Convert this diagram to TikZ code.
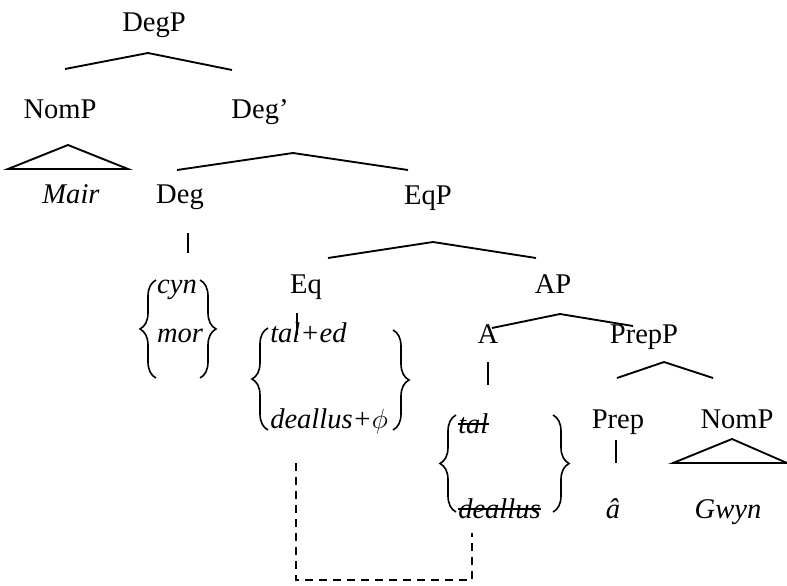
\documentclass[tikz,border=0pt]{standalone}
\usepackage{fontspec}
\setmainfont{Liberation Serif}
\usetikzlibrary{decorations.pathreplacing}
\begin{document}
\begin{tikzpicture}[x=0.75pt,y=-0.75pt,
  lbl/.style={inner sep=0pt,anchor=base,font=\fontsize{21.4}{25}\selectfont},
  word/.style={lbl,font=\fontsize{21.4}{25}\selectfont\itshape},
  branch/.style={line width=1.4pt,line join=miter},
  curly/.style={line width=1.2pt,decorate,decoration={brace,amplitude=12pt,aspect=0.5}},
  strike/.style={line width=1.3pt},
  link/.style={line width=1.4pt,dash pattern=on 6pt off 4.5pt}]
\useasboundingbox (0,0) rectangle (787,585);

% category labels
\node[lbl] (degp)  at (154,32)  {DegP};
\node[lbl] (nomp1) at (60,118)  {NomP};
\node[lbl] (degb)  at (260,118) {Deg’};
\node[lbl] (deg)   at (180,203) {Deg};
\node[lbl] (eqp)   at (428,204) {EqP};
\node[lbl] (eq)    at (306,293) {Eq};
\node[lbl] (ap)    at (553,293) {AP};
\node[lbl] (a)     at (488,343) {A};
\node[lbl] (prepp) at (644,343) {PrepP};
\node[lbl] (prep)  at (618,428) {Prep};
\node[lbl] (nomp2) at (737,428) {NomP};

% lexical items
\node[word] (mair)  at (71,203)  {Mair};
\node[word] (cyn)   at (177,293) {cyn};
\node[word] (mor)   at (180,342) {mor};
\node[word,anchor=base west] (taled) at (270,342) {tal+ed};
\node[word,anchor=base west] (deallusphi) at (270,428) {deallus+$\phi$};
\node[word,anchor=base west] (tal) at (458,433) {tal};
\node[word,anchor=base west] (deallus) at (458,518) {deallus};
\node[word] (ahat)  at (613,518) {â};
\node[word] (gwyn)  at (728,518) {Gwyn};

% deleted copies
\draw[strike] ([yshift=7pt]tal.base west) -- ([yshift=7pt]tal.base east);
\draw[strike] ([yshift=7pt]deallus.base west) -- ([yshift=7pt]deallus.base east);

% branch points
\coordinate (degpL) at (65,69);   \coordinate (degpT) at (148,53);  \coordinate (degpR) at (232,70);
\coordinate (degbL) at (177,170); \coordinate (degbT) at (293,153); \coordinate (degbR) at (408,170);
\coordinate (eqpL) at (328,258);  \coordinate (eqpT) at (433,242);  \coordinate (eqpR) at (536,258);
\coordinate (apL) at (492,328);   \coordinate (apT) at (560,314);   \coordinate (apR) at (633,326);
\coordinate (preppL) at (617,378);\coordinate (preppT) at (664,362);\coordinate (preppR) at (713,378);
\coordinate (tri1T) at (68,145);  \coordinate (tri1L) at (8,169);   \coordinate (tri1R) at (128,169);
\coordinate (tri2T) at (732,439); \coordinate (tri2L) at (673,463); \coordinate (tri2R) at (787,463);
\coordinate (degT) at (188,233);  \coordinate (degB) at (188,253);
\coordinate (eqT) at (297,313);   \coordinate (eqB) at (297,335);
\coordinate (aT) at (488,362);    \coordinate (aB) at (488,385);
\coordinate (prepT) at (616,440); \coordinate (prepB) at (616,463);

% branches
\draw[branch] (degpL) -- (degpT) -- (degpR);
\draw[branch] (degbL) -- (degbT) -- (degbR);
\draw[branch] (eqpL) -- (eqpT) -- (eqpR);
\draw[branch] (apL) -- (apT) -- (apR);
\draw[branch] (preppL) -- (preppT) -- (preppR);
\draw[branch] (tri1L) -- (tri1T) -- (tri1R) -- cycle;
\draw[branch] (tri2L) -- (tri2T) -- (tri2R) -- cycle;
\draw[branch] (degT) -- (degB);
\draw[branch] (eqT) -- (eqB);
\draw[branch] (aT) -- (aB);
\draw[branch] (prepT) -- (prepB);

% braces around alternatives
\draw[curly] (156,378) -- (156,280);
\draw[curly] (200,280) -- (200,378);
\draw[curly] (268,430) -- (268,328);
\draw[curly] (393,330) -- (393,430);
\draw[curly] (456,512) -- (456,415);
\draw[curly] (553,415) -- (553,512);

% movement link
\coordinate (linkA) at (296,463);
\coordinate (linkB) at (472,533);
\draw[link] (linkA) -- (296,580) -- (472,580) -- (linkB);
\end{tikzpicture}
\end{document}
